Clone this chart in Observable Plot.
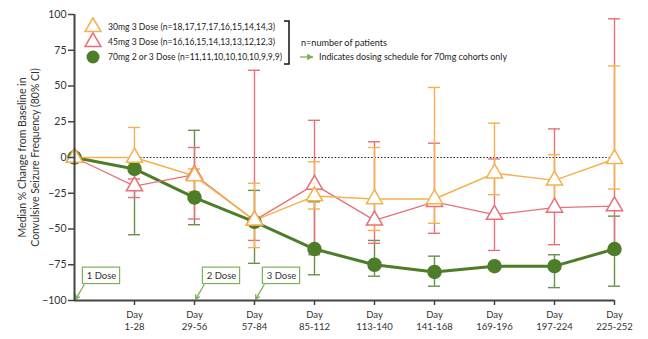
<!DOCTYPE html>
<html><head><meta charset="utf-8">
<script src="https://cdn.jsdelivr.net/npm/d3@7"></script>
<script src="https://cdn.jsdelivr.net/npm/@observablehq/plot@0.6"></script>
<style>
body{margin:0;background:#fff;}
#wrap{position:relative;width:648px;height:339px;font-family:Lato,sans-serif;}
#wrap svg{display:block;}
#legend{position:absolute;left:0;top:0;}
</style></head><body><div id="wrap"></div>
<script>
// x positions 0..9 ; tick labels
const periods = ["", "1-28", "29-56", "57-84", "85-112", "113-140", "141-168", "169-196", "197-224", "225-252"];
const yTicks = [-100, -75, -50, -25, 0, 25, 50, 75, 100];

// 30mg 3 Dose
const med30 = [0, 0, -13, -44, -27, -29, -29, -11, -16, -1];
const lo30  = [null, -4, -24, -63, -36, -51, -46, -26, -37, -22];
const hi30  = [null, 21, -8, -18, -3, 7, 49, 24, 2, 64];
// 45mg 3 Dose
const med45 = [0, -20, -12, -44, -19, -44, -31, -40, -35, -34];
const lo45  = [null, -28, -43, -58, -68, -60, -53, -65, -61, -67];
const hi45  = [null, -15, 7, 61, 26, 11, 10, -1, 20, 97];
// 70mg 2 or 3 Dose
const med70 = [0, -8, -28, -45, -64, -75, -80, -76, -76, -64];
const lo70  = [null, -54, -47, -74, -82, -83, -90, null, -91, -90];
const hi70  = [null, -2, 19, -23, -31, -58, -69, null, -68, -41];

const seriesNames = [
  "30mg 3 Dose (n=18,17,17,17,16,15,14,14,3)",
  "45mg 3 Dose (n=16,16,15,14,13,13,12,12,3)",
  "70mg 2 or 3 Dose (n=11,11,10,10,10,10,9,9,9)"
];
const doseLabels = ["1 Dose", "2 Dose", "3 Dose"];
const doseAt = [0, 2, 3];
const yLabel = "Median % Change from Baseline in\nConvulsive Seizure Frequency (80% CI)";

const ORANGE = "#F5B14C", RED = "#E8707B", GREEN = "#4E7D2A", GREEN_EB = "#6A8F4C", BOXG = "#7DB15A";

function rowsOf(med, lo, hi) {
  return med.map((v, i) => ({i, v, lo: lo[i], hi: hi[i]}));
}
const r30 = rowsOf(med30, lo30, hi30);
const r45 = rowsOf(med45, lo45, hi45);
const r70 = rowsOf(med70, lo70, hi70);
const doses = doseLabels.map((t, k) => ({t, x: doseAt[k]}));

function errorBars(rows, color) {
  const d = rows.filter(r => r.lo != null);
  return [
    Plot.ruleX(d, {x: "i", y1: "lo", y2: "hi", stroke: color, strokeWidth: 1.4}),
    Plot.ruleY(d, {y: "lo", x1: r => r.i - 0.1, x2: r => r.i + 0.1, stroke: color, strokeWidth: 1.4}),
    Plot.ruleY(d, {y: "hi", x1: r => r.i - 0.1, x2: r => r.i + 0.1, stroke: color, strokeWidth: 1.4})
  ];
}

const chart = Plot.plot({
  width: 648, height: 339,
  marginLeft: 74, marginRight: 34, marginTop: 14, marginBottom: 39,
  style: {fontFamily: "Lato, sans-serif", fontSize: "10px", color: "#333", background: "#fff"},
  x: {domain: [0, 9]},
  y: {domain: [-100, 100]},
  marks: [
    Plot.ruleY([0], {stroke: "#222", strokeWidth: 1.2, strokeDasharray: "1.5,1.8"}),
    ...errorBars(r70, GREEN_EB),
    ...errorBars(r45, RED),
    ...errorBars(r30, ORANGE),
    Plot.line(r70, {x: "i", y: "v", stroke: GREEN, strokeWidth: 3}),
    Plot.line(r45, {x: "i", y: "v", stroke: RED, strokeWidth: 1.3}),
    Plot.line(r30, {x: "i", y: "v", stroke: ORANGE, strokeWidth: 1.5}),
    Plot.dot(r70, {x: "i", y: "v", r: 6.5, fill: GREEN, stroke: GREEN}),
    Plot.dot(r45, {x: "i", y: "v", r: 6, symbol: "triangle", fill: "white", stroke: RED, strokeWidth: 1.5}),
    Plot.dot(r30, {x: "i", y: "v", r: 6, symbol: "triangle", fill: "white", stroke: ORANGE, strokeWidth: 1.5}),
    // dose callouts
    Plot.rect(doses, {x1: d => d.x + 0.14, x2: d => d.x + 0.76, y1: -77, y2: -88.5, fill: "white", stroke: BOXG, strokeWidth: 1.2}),
    Plot.text(doses, {x: d => d.x + 0.45, y: -82.7, text: "t", fontSize: 9.5, fill: "#333"}),
    Plot.arrow(doses, {x1: d => d.x + 0.16, y1: -89, x2: d => d.x + 0.02, y2: -99, stroke: BOXG, strokeWidth: 1.3, headLength: 5}),
    // axes
    Plot.axisY({ticks: yTicks, tickSize: 6, tickPadding: 2, fontSize: 10.5, label: null, strokeWidth: 1.5, stroke: "#444"}),
    Plot.axisX({ticks: d3.range(1, 10), tickFormat: i => "Day\n" + periods[i], tickSize: 5, tickPadding: 3, fontSize: 9.5, label: null, strokeWidth: 1.5, stroke: "#444", lineHeight: 1.35}),
    Plot.ruleX([0], {stroke: "#444", strokeWidth: 2}),
    Plot.ruleY([-100], {stroke: "#444", strokeWidth: 2}),
    Plot.text([yLabel], {frameAnchor: "left", textAnchor: "middle", lineAnchor: "middle", rotate: -90, dx: -46, fontSize: 10.5, lineHeight: 1.2, fill: "#333"})
  ]
});
const wrap = document.getElementById("wrap");
wrap.appendChild(chart);

// legend overlay
const svg = d3.select(wrap).append("svg").attr("id", "legend").attr("width", 648).attr("height", 80)
  .style("font-family", "Lato, sans-serif").style("font-size", "9.5px");
const colors = [ORANGE, RED, GREEN];
const nameWidths = [167, 167, 174];
seriesNames.forEach((name, k) => {
  const y = 27 + k * 15;
  if (k < 2) {
    svg.append("path").attr("transform", `translate(93,${y})`)
      .attr("d", d3.symbol(d3.symbolTriangle, 110)())
      .attr("fill", "white").attr("stroke", colors[k]).attr("stroke-width", 1.5);
  } else {
    svg.append("circle").attr("cx", 93).attr("cy", y).attr("r", 6.5).attr("fill", GREEN);
  }
  svg.append("text").attr("x", 108).attr("y", y).attr("dy", "0.35em").attr("fill", "#222")
    .attr("textLength", nameWidths[k]).attr("lengthAdjust", "spacingAndGlyphs").text(name);
});
svg.append("path").attr("d", "M284,21H289V64H284").attr("fill", "none").attr("stroke", "#111").attr("stroke-width", 1.5);
svg.append("text").attr("x", 301).attr("y", 43).attr("dy", "0.35em").attr("fill", "#222")
  .attr("textLength", 86).attr("lengthAdjust", "spacingAndGlyphs").text("n=number of patients");
svg.append("defs").append("marker").attr("id", "ah").attr("viewBox", "0 0 10 10").attr("refX", 9).attr("refY", 5)
  .attr("markerWidth", 5).attr("markerHeight", 5).attr("orient", "auto")
  .append("path").attr("d", "M0,0L10,5L0,10z").attr("fill", BOXG);
svg.append("line").attr("x1", 300).attr("x2", 313).attr("y1", 57).attr("y2", 57).attr("stroke", BOXG).attr("stroke-width", 1.3).attr("marker-end", "url(#ah)");
svg.append("text").attr("x", 319).attr("y", 57).attr("dy", "0.35em").attr("fill", "#222")
  .attr("textLength", 188).attr("lengthAdjust", "spacingAndGlyphs").text("Indicates dosing schedule for 70mg cohorts only");
</script>
</body></html>
